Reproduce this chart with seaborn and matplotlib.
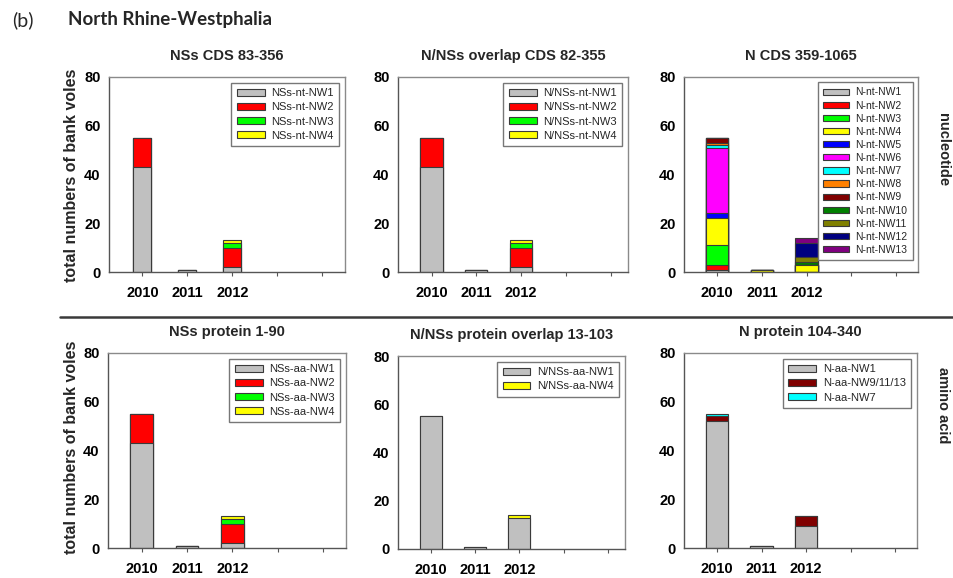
import matplotlib
matplotlib.use("Agg")
import matplotlib.pyplot as plt
from matplotlib.patches import Patch
from matplotlib.lines import Line2D
import seaborn as sns
import pandas as pd

# years on the x axis (two empty slots follow on the axis)
years = ["2010", "2011", "2012"]

# nucleotide level
nss_cds_labels = ["NSs-nt-NW1", "NSs-nt-NW2", "NSs-nt-NW3", "NSs-nt-NW4"]
nss_cds_values = [[43, 1, 2], [12, 0, 8], [0, 0, 2], [0, 0, 1]]

overlap_cds_labels = ["N/NSs-nt-NW1", "N/NSs-nt-NW2", "N/NSs-nt-NW3", "N/NSs-nt-NW4"]
overlap_cds_values = [[43, 1, 2], [12, 0, 8], [0, 0, 2], [0, 0, 1]]

n_cds_labels = ["N-nt-NW%d" % i for i in range(1, 14)]
n_cds_values = [
    [1, 0, 0], [2, 0, 0], [8, 0, 0], [11, 1, 3], [2, 0, 0], [27, 0, 0], [1, 0, 0],
    [1, 0, 0], [2, 0, 0], [0, 0, 1], [0, 0, 2], [0, 0, 6], [0, 0, 2],
]

# amino acid level
nss_prot_labels = ["NSs-aa-NW1", "NSs-aa-NW2", "NSs-aa-NW3", "NSs-aa-NW4"]
nss_prot_values = [[43, 1, 2], [12, 0, 8], [0, 0, 2], [0, 0, 1]]

overlap_prot_labels = ["N/NSs-aa-NW1", "N/NSs-aa-NW4"]
overlap_prot_values = [[55, 1, 13], [0, 0, 1]]

n_prot_labels = ["N-aa-NW1", "N-aa-NW9/11/13", "N-aa-NW7"]
n_prot_values = [[52, 1, 9], [2, 0, 4], [1, 0, 0]]

# colours
c4 = ["#c0c0c0", "#ff0000", "#00ff00", "#ffff00"]
c13 = ["#c0c0c0", "#ff0000", "#00ff00", "#ffff00", "#0000ff", "#ff00ff", "#00ffff",
       "#ff8000", "#800000", "#008000", "#808000", "#000080", "#800080"]
c_overlap_prot = ["#c0c0c0", "#ffff00"]
c_n_prot = ["#c0c0c0", "#800000", "#00ffff"]

sns.set_theme(style="white")
plt.rcParams["font.family"] = ["Liberation Sans", "DejaVu Sans"]

EDGE = "#3a3a3a"
W, H = 954, 578
fig = plt.figure(figsize=(W / 100, H / 100), dpi=100)


def px_axes(left, top, right, bottom):
    return fig.add_axes([left / W, 1 - bottom / H, (right - left) / W, (bottom - top) / H])


def stacked_panel(ax, title, labels, values, colors, width, xlim, leg_font=8, leg_space=0.38):
    order = years + ["s4", "s5"]
    # draw cumulative totals from the top layer down so each segment shows
    for i in reversed(range(len(values))):
        cum = [sum(v[j] for v in values[: i + 1]) for j in range(len(years))]
        df = pd.DataFrame({"year": years, "count": cum})
        sns.barplot(data=df, x="year", y="count", order=order, color=colors[i],
                    saturation=1, width=width, edgecolor=EDGE, linewidth=0.8,
                    errorbar=None, ax=ax)
    ax.set_xlim(*xlim)
    ax.set_ylim(0, 80)
    ax.set_yticks([0, 20, 40, 60, 80])
    ax.set_xticks(range(5))
    ax.set_xticklabels(years + ["", ""])
    ax.set_xlabel("")
    ax.set_ylabel("")
    for lab in ax.get_xticklabels() + ax.get_yticklabels():
        lab.set_fontweight("bold")
        lab.set_fontsize(10.5)
        lab.set_color("black")
    ax.tick_params(axis="x", length=3, width=0.8, color="#555555", pad=7, bottom=True)
    ax.tick_params(axis="y", length=0, pad=6, left=True)
    for s in ["left", "bottom"]:
        ax.spines[s].set_color("#555555")
        ax.spines[s].set_linewidth(1.0)
    for s in ["top", "right"]:
        ax.spines[s].set_color("#8a8a8a")
        ax.spines[s].set_linewidth(1.0)
    ax.set_title(title, fontsize=10.5, fontweight="bold", pad=12)
    handles = [Patch(facecolor=c, edgecolor=EDGE, linewidth=0.8) for c in colors]
    leg = ax.legend(handles, labels, loc="upper right", frameon=True,
                    fancybox=False, edgecolor="#777777", framealpha=1,
                    handlelength=2.5, handleheight=0.55, labelspacing=leg_space,
                    borderaxespad=0.5, borderpad=0.5, handletextpad=0.6,
                    prop={"size": leg_font})
    leg.get_frame().set_linewidth(1.0)


ax1 = px_axes(109, 77, 345, 272)
stacked_panel(ax1, "NSs CDS 83-356", nss_cds_labels, nss_cds_values, c4, 0.4, (-0.74, 4.5))
ax2 = px_axes(398, 77, 628, 272)
stacked_panel(ax2, "N/NSs overlap CDS 82-355", overlap_cds_labels, overlap_cds_values, c4, 0.5, (-0.75, 4.39))
ax3 = px_axes(684, 77, 918, 272)
stacked_panel(ax3, "N CDS 359-1065", n_cds_labels, n_cds_values, c13, 0.5, (-0.74, 4.49),
              leg_font=7.5, leg_space=0.3)

ax4 = px_axes(108, 353, 346, 548)
stacked_panel(ax4, "NSs protein 1-90", nss_prot_labels, nss_prot_values, c4, 0.5, (-0.74, 4.5))
ax5 = px_axes(398, 356, 625, 549)
stacked_panel(ax5, "N/NSs protein overlap 13-103", overlap_prot_labels, overlap_prot_values,
              c_overlap_prot, 0.5, (-0.75, 4.39))
ax6 = px_axes(684, 353, 917, 548)
stacked_panel(ax6, "N protein 104-340", n_prot_labels, n_prot_values, c_n_prot, 0.5, (-0.74, 4.49))

# header
fig.text(12 / W, 1 - 20 / H, "(b)", fontsize=14, va="center", ha="left",
         family=["Lato", "DejaVu Sans"])
fig.text(68 / W, 1 - 20 / H, "North Rhine-Westphalia", fontsize=13.5, fontweight="bold",
         va="center", ha="left", family=["Lato", "DejaVu Sans"])

# shared y labels
for yc in (175, 447):
    fig.text(72 / W, 1 - yc / H, "total numbers of bank voles", rotation=90, fontsize=11.5,
             fontweight="bold", ha="center", va="center")

# row labels on the right
fig.text(943 / W, 1 - 150 / H, "nucleotide", rotation=270, fontsize=10.5, fontweight="bold",
         ha="center", va="center")
fig.text(943 / W, 1 - 405 / H, "amino acid", rotation=270, fontsize=10.5, fontweight="bold",
         ha="center", va="center")

# separator between the two rows
fig.add_artist(Line2D([60 / W, 1.0], [1 - 317 / H, 1 - 317 / H], color="#3a3a3a",
                      linewidth=1.8, transform=fig.transFigure))

fig.savefig("out.png", dpi=100)
